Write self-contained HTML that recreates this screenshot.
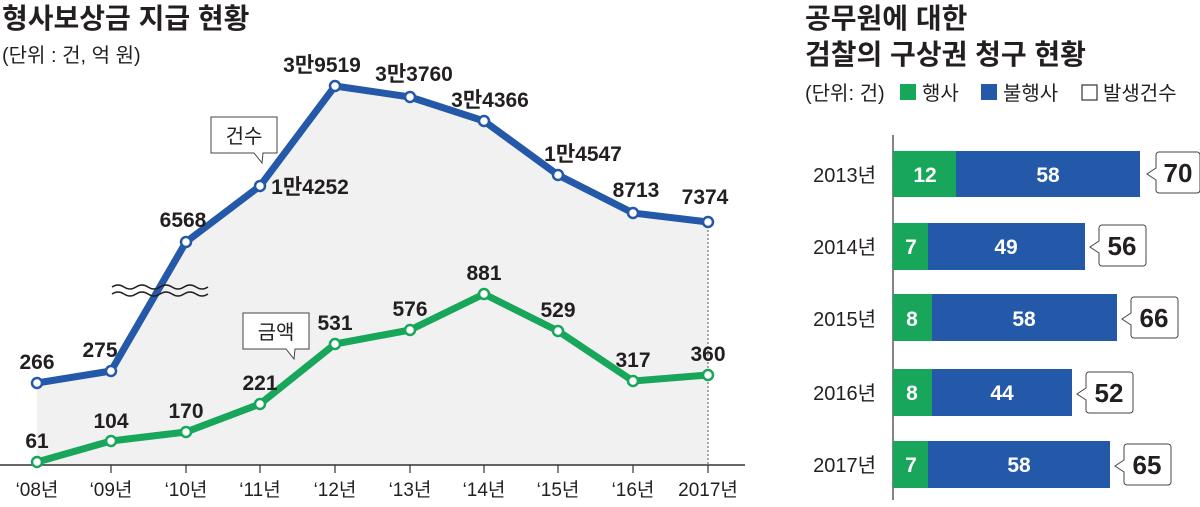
<!DOCTYPE html>
<html><head><meta charset="utf-8"><style>
body{margin:0;background:#fff;}
svg{display:block;font-family:"Liberation Sans","Noto Sans CJK KR",sans-serif;}
.v{font-weight:bold;font-size:21px;fill:#231f20;text-anchor:middle;}
.x{font-size:19px;fill:#231f20;text-anchor:middle;}
</style></head><body>
<svg width="1200" height="507" viewBox="0 0 1200 507">
<rect width="1200" height="507" fill="#fff"/>
<text x="2" y="28" font-size="28" font-weight="bold" fill="#231f20">형사보상금 지급 현황</text>
<text x="2" y="62" font-size="20" fill="#231f20">(단위 : 건, 억 원)</text>
<polygon points="37,383 111,371 186,242 260,186 335,86 410,97 484,121 558,175 633,213 708,222 708,465 37,465" fill="#f1f1f1"/>
<line x1="708" y1="222" x2="708" y2="465" stroke="#555" stroke-width="1" stroke-dasharray="2,2"/>
<line x1="0" y1="465" x2="745" y2="465" stroke="#333" stroke-width="1.5"/>
<g stroke="#333" stroke-width="1.2">
<line x1="111" y1="465" x2="111" y2="473"/><line x1="186" y1="465" x2="186" y2="473"/><line x1="260" y1="465" x2="260" y2="473"/><line x1="335" y1="465" x2="335" y2="473"/><line x1="410" y1="465" x2="410" y2="473"/><line x1="484" y1="465" x2="484" y2="473"/><line x1="558" y1="465" x2="558" y2="473"/><line x1="633" y1="465" x2="633" y2="473"/><line x1="708" y1="465" x2="708" y2="473"/>
</g>
<polyline points="37,383 111,371 186,242 260,186 335,86 410,97 484,121 558,175 633,213 708,222" fill="none" stroke="#2458a8" stroke-width="7" stroke-linejoin="round"/>
<polyline points="37,462 111,441 186,432 260,404 335,344 410,330 484,294 558,331 633,381 708,375" fill="none" stroke="#17a65a" stroke-width="7" stroke-linejoin="round"/>
<g fill="#fff" stroke="#2458a8" stroke-width="2.5">
<circle cx="37" cy="383" r="5"/><circle cx="111" cy="371" r="5"/><circle cx="186" cy="242" r="5"/><circle cx="260" cy="186" r="5"/><circle cx="335" cy="86" r="5"/><circle cx="410" cy="97" r="5"/><circle cx="484" cy="121" r="5"/><circle cx="558" cy="175" r="5"/><circle cx="633" cy="213" r="5"/><circle cx="708" cy="222" r="5"/>
</g>
<g fill="#fff" stroke="#17a65a" stroke-width="2.5">
<circle cx="37" cy="462" r="5"/><circle cx="111" cy="441" r="5"/><circle cx="186" cy="432" r="5"/><circle cx="260" cy="404" r="5"/><circle cx="335" cy="344" r="5"/><circle cx="410" cy="330" r="5"/><circle cx="484" cy="294" r="5"/><circle cx="558" cy="331" r="5"/><circle cx="633" cy="381" r="5"/><circle cx="708" cy="375" r="5"/>
</g>
<g fill="none" stroke="#231f20" stroke-width="1.5">
<path d="M112,287 q6,-4 12,0 t12,0 t12,0 t12,0 t12,0 t12,0 t12,0 t12,0"/>
<path d="M112,294 q6,-4 12,0 t12,0 t12,0 t12,0 t12,0 t12,0 t12,0 t12,0"/>
</g>
<g fill="#fff" stroke="#444" stroke-width="1">
<path d="M211,117 h66 v36 h-14 l-1,10 l-8,-10 h-43 z"/>
<path d="M243,313 h66 v36 h-14 l-1,10 l-8,-10 h-43 z"/>
</g>
<text x="244" y="143" font-size="20" fill="#231f20" text-anchor="middle">건수</text>
<text x="276" y="339" font-size="20" fill="#231f20" text-anchor="middle">금액</text>
<g class="v">
<text x="37" y="369">266</text><text x="100" y="357">275</text><text x="183" y="227">6568</text><text x="310" y="194">1만4252</text><text x="322" y="72">3만9519</text><text x="414" y="81">3만3760</text><text x="490" y="107">3만4366</text><text x="583" y="161">1만4547</text><text x="636" y="197">8713</text><text x="705" y="204">7374</text>
<text x="37" y="448">61</text><text x="111" y="428">104</text><text x="186" y="418">170</text><text x="260" y="390">221</text><text x="335" y="330">531</text><text x="410" y="316">576</text><text x="484" y="280">881</text><text x="558" y="317">529</text><text x="633" y="367">317</text><text x="708" y="361">360</text>
</g>
<g class="x">
<text x="37" y="496">‘08년</text><text x="111" y="496">‘09년</text><text x="186" y="496">‘10년</text><text x="260" y="496">‘11년</text><text x="335" y="496">‘12년</text><text x="410" y="496">‘13년</text><text x="484" y="496">‘14년</text><text x="558" y="496">‘15년</text><text x="633" y="496">‘16년</text><text x="708" y="496">2017년</text>
</g>
<text x="805" y="28" font-size="28" font-weight="bold" fill="#231f20">공무원에 대한</text>
<text x="805" y="64" font-size="28" font-weight="bold" fill="#231f20">검찰의 구상권 청구 현황</text>
<text x="805" y="100" font-size="20" fill="#231f20">(단위: 건)</text>
<rect x="900" y="84" width="16" height="16" fill="#17a65a"/>
<text x="922" y="100" font-size="20" fill="#231f20">행사</text>
<rect x="981" y="84" width="16" height="16" fill="#2458a8"/>
<text x="1003" y="100" font-size="20" fill="#231f20">불행사</text>
<rect x="1082" y="85" width="15" height="15" fill="#fff" stroke="#333" stroke-width="1.2"/>
<text x="1103" y="100" font-size="20" fill="#231f20">발생건수</text>
<line x1="893" y1="135" x2="893" y2="500" stroke="#333" stroke-width="1.2"/>
<g font-size="20" fill="#231f20" text-anchor="end">
<text x="876" y="182">2013년</text><text x="876" y="254">2014년</text><text x="876" y="326">2015년</text><text x="876" y="400">2016년</text><text x="876" y="472">2017년</text>
</g>
<g>
<rect x="893" y="151" width="63" height="46" fill="#17a65a"/><rect x="956" y="151" width="184" height="46" fill="#2458a8"/>
<rect x="893" y="223" width="35" height="47" fill="#17a65a"/><rect x="928" y="223" width="157" height="47" fill="#2458a8"/>
<rect x="893" y="294" width="39" height="47" fill="#17a65a"/><rect x="932" y="294" width="185" height="47" fill="#2458a8"/>
<rect x="893" y="369" width="39" height="47" fill="#17a65a"/><rect x="932" y="369" width="140" height="47" fill="#2458a8"/>
<rect x="893" y="441" width="35" height="47" fill="#17a65a"/><rect x="928" y="441" width="182" height="47" fill="#2458a8"/>
</g>
<g font-size="21" font-weight="bold" fill="#fff" text-anchor="middle">
<text x="925" y="182">12</text><text x="1048" y="182">58</text>
<text x="911" y="254">7</text><text x="1006" y="254">49</text>
<text x="912" y="326">8</text><text x="1024" y="326">58</text>
<text x="912" y="400">8</text><text x="1002" y="400">44</text>
<text x="911" y="472">7</text><text x="1019" y="472">58</text>
</g>
<g fill="#fff" stroke="#444" stroke-width="1">
<path d="M1159,152 h38 a3,3 0 0 1 3,3 v35 a3,3 0 0 1 -3,3 h-38 a3,3 0 0 1 -3,-3 v-10 l-9,-6 l9,-6 v-13 a3,3 0 0 1 3,-3 z"/>
<path d="M1102,225 h41 a3,3 0 0 1 3,3 v35 a3,3 0 0 1 -3,3 h-41 a3,3 0 0 1 -3,-3 v-10 l-9,-6 l9,-6 v-13 a3,3 0 0 1 3,-3 z"/>
<path d="M1134,297 h41 a3,3 0 0 1 3,3 v35 a3,3 0 0 1 -3,3 h-41 a3,3 0 0 1 -3,-3 v-10 l-9,-6 l9,-6 v-13 a3,3 0 0 1 3,-3 z"/>
<path d="M1089,372 h41 a3,3 0 0 1 3,3 v35 a3,3 0 0 1 -3,3 h-41 a3,3 0 0 1 -3,-3 v-10 l-9,-6 l9,-6 v-13 a3,3 0 0 1 3,-3 z"/>
<path d="M1127,444 h41 a3,3 0 0 1 3,3 v35 a3,3 0 0 1 -3,3 h-41 a3,3 0 0 1 -3,-3 v-10 l-9,-6 l9,-6 v-13 a3,3 0 0 1 3,-3 z"/>
</g>
<g font-size="26" font-weight="bold" fill="#231f20" text-anchor="middle">
<text x="1178" y="182">70</text><text x="1122" y="255">56</text><text x="1154" y="327">66</text><text x="1109" y="402">52</text><text x="1147" y="474">65</text>
</g>
</svg>
</body></html>
